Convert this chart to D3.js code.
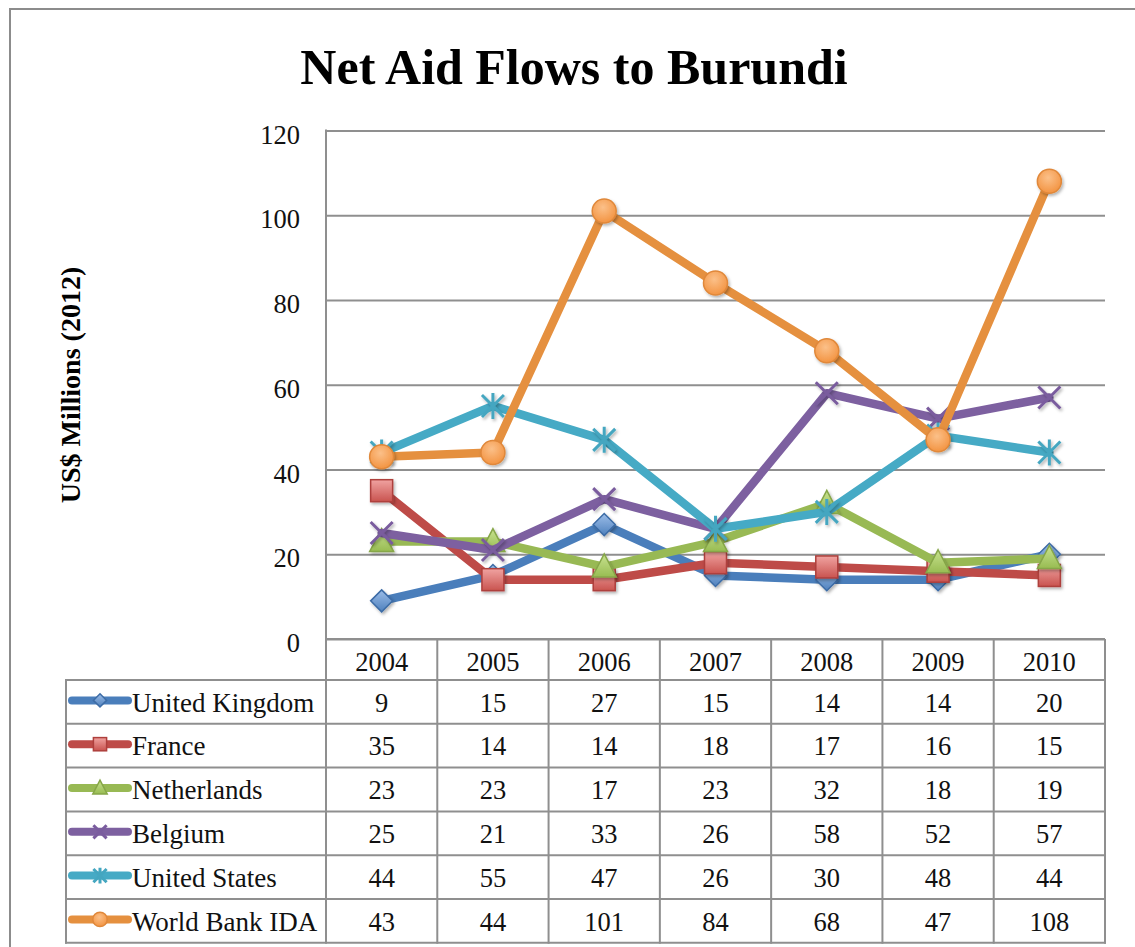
<!DOCTYPE html>
<html>
<head>
<meta charset="utf-8">
<script src="https://cdn.jsdelivr.net/npm/d3@7"></script>
<style>
  html, body { margin: 0; padding: 0; background: #fff; }
  svg { display: block; }
</style>
</head>
<body>
<svg id="chart" width="1135" height="947"></svg>
<script>
// ---- data ----
const years = ["2004", "2005", "2006", "2007", "2008", "2009", "2010"];
const seriesNames = ["United Kingdom", "France", "Netherlands", "Belgium", "United States", "World Bank IDA"];
const ukValues = [9, 15, 27, 15, 14, 14, 20];
const franceValues = [35, 14, 14, 18, 17, 16, 15];
const netherlandsValues = [23, 23, 17, 23, 32, 18, 19];
const belgiumValues = [25, 21, 33, 26, 58, 52, 57];
const usValues = [44, 55, 47, 26, 30, 48, 44];
const worldBankValues = [43, 44, 101, 84, 68, 47, 108];
const yTicks = [0, 20, 40, 60, 80, 100, 120];
const titleText = "Net Aid Flows to Burundi";
const yAxisTitle = "US$ Millions (2012)";

const allValues = [ukValues, franceValues, netherlandsValues, belgiumValues, usValues, worldBankValues];

// ---- styles ----
const styles = [
  { line: "#4A7EBB", marker: "diamond",  g1: "#9CBDE8", g2: "#4F81BD", stroke: "#3D6CA6" },
  { line: "#BE4B48", marker: "square",   g1: "#F0A3A1", g2: "#C9534F", stroke: "#AE3F3C" },
  { line: "#98B954", marker: "triangle", g1: "#C8E290", g2: "#98BC52", stroke: "#86A648" },
  { line: "#7D60A0", marker: "x",        g1: null, g2: null, stroke: "#7A5C9E" },
  { line: "#46AAC5", marker: "star",     g1: null, g2: null, stroke: "#44A6C0" },
  { line: "#E5903F", marker: "circle",   g1: "#FBC089", g2: "#F39442", stroke: "#E0883A" }
];

const font = "'Liberation Serif', 'Times New Roman', serif";
const gridColor = "#8f8f8f";

const svg = d3.select("#chart");
const defs = svg.append("defs");

// gradients
styles.forEach((s, i) => {
  if (!s.g1) return;
  if (s.marker === "circle") {
    const rg = defs.append("radialGradient").attr("id", "grad" + i)
      .attr("cx", "45%").attr("cy", "35%").attr("r", "65%");
    rg.append("stop").attr("offset", "0%").attr("stop-color", s.g1);
    rg.append("stop").attr("offset", "100%").attr("stop-color", s.g2);
  } else {
    const lg = defs.append("linearGradient").attr("id", "grad" + i)
      .attr("x1", "0").attr("y1", "0").attr("x2", "0").attr("y2", "1");
    lg.append("stop").attr("offset", "0%").attr("stop-color", s.g1);
    lg.append("stop").attr("offset", "100%").attr("stop-color", s.g2);
  }
});
const shadow = defs.append("filter").attr("id", "shadow")
  .attr("x", "-50%").attr("y", "-50%").attr("width", "200%").attr("height", "200%");
shadow.append("feDropShadow").attr("dx", 1.5).attr("dy", 2).attr("stdDeviation", 1.5)
  .attr("flood-color", "#000").attr("flood-opacity", 0.3);

// ---- layout ----
const L = 326, R = 1105;
const yTop = 130.5, yZero = 639;
const headerBottom = 680;
const rowH = 43.8;
const legendLeft = 66;
const tableBottom = headerBottom + rowH * seriesNames.length;

const x = d3.scaleBand().domain(years).range([L, R]);
const xc = d => x(d) + x.bandwidth() / 2;
const y = d3.scaleLinear().domain([0, 120]).range([yZero, yTop]);

// outer border (extends beyond viewport)
svg.append("rect").attr("x", 10).attr("y", 9).attr("width", 1300).attr("height", 1100)
  .attr("fill", "none").attr("stroke", "#8c8c8c").attr("stroke-width", 2);

// title
svg.append("text").attr("x", 574).attr("y", 84).attr("text-anchor", "middle")
  .attr("font-family", font).attr("font-weight", "bold").attr("font-size", 50)
  .attr("fill", "#000").text(titleText);

// y axis title
svg.append("text").attr("transform", "translate(80,385) rotate(-90)")
  .attr("text-anchor", "middle").attr("font-family", font).attr("font-weight", "bold")
  .attr("font-size", 28).attr("fill", "#000").text(yAxisTitle);

// y axis with gridlines
const yAxis = d3.axisLeft(y).tickValues(yTicks).tickSize(-(R - L)).tickPadding(26).tickFormat(d3.format("d"));
const gy = svg.append("g").attr("transform", `translate(${L},0)`).call(yAxis);
gy.select(".domain").remove();
gy.selectAll(".tick line").attr("stroke", gridColor).attr("stroke-width", 2);
gy.selectAll(".tick text").attr("font-family", font).attr("font-size", 26.5)
  .attr("fill", "#111").attr("dy", "0.48em");

// table lines
const tg = svg.append("g").attr("stroke", gridColor).attr("stroke-width", 2).attr("fill", "none");
tg.append("line").attr("x1", L).attr("x2", L).attr("y1", yTop - 1).attr("y2", tableBottom + 1);
years.forEach(yr => {
  const xr = x(yr) + x.bandwidth();
  tg.append("line").attr("x1", xr).attr("x2", xr).attr("y1", yZero).attr("y2", tableBottom + 1);
});
tg.append("line").attr("x1", L).attr("x2", R).attr("y1", yZero).attr("y2", yZero);
for (let i = 0; i <= seriesNames.length; i++) {
  const yy = headerBottom + i * rowH;
  tg.append("line").attr("x1", legendLeft - 1).attr("x2", R + 1).attr("y1", yy).attr("y2", yy);
}
tg.append("line").attr("x1", legendLeft).attr("x2", legendLeft).attr("y1", headerBottom).attr("y2", tableBottom + 1);

// header year labels
svg.append("g").selectAll("text").data(years).join("text")
  .attr("x", d => xc(d)).attr("y", 671).attr("text-anchor", "middle")
  .attr("font-family", font).attr("font-size", 26.5).attr("fill", "#111").text(d => d);

// marker drawing
function drawMarker(g, s, i, scale) {
  const k = scale;
  if (s.marker === "diamond") {
    g.append("path").attr("d", `M0,${-11*k}L${11*k},0L0,${11*k}L${-11*k},0Z`)
      .attr("fill", `url(#grad${i})`).attr("stroke", s.stroke).attr("stroke-width", 1.5);
  } else if (s.marker === "square") {
    g.append("rect").attr("x", -11*k).attr("y", -11*k).attr("width", 22*k).attr("height", 22*k)
      .attr("fill", `url(#grad${i})`).attr("stroke", s.stroke).attr("stroke-width", 1.5);
  } else if (s.marker === "triangle") {
    g.append("path").attr("d", `M0,${-13*k}L${12*k},${10*k}L${-12*k},${10*k}Z`)
      .attr("fill", `url(#grad${i})`).attr("stroke", s.stroke).attr("stroke-width", 1.5);
  } else if (s.marker === "x") {
    g.append("path").attr("d", `M${-11*k},${-11*k}L${11*k},${11*k}M${11*k},${-11*k}L${-11*k},${11*k}`)
      .attr("stroke", s.stroke).attr("stroke-width", 3).attr("fill", "none");
  } else if (s.marker === "star") {
    g.append("path").attr("d", `M${-11*k},${-11*k}L${11*k},${11*k}M${11*k},${-11*k}L${-11*k},${11*k}M0,${-13*k}L0,${13*k}`)
      .attr("stroke", s.stroke).attr("stroke-width", 3).attr("fill", "none");
  } else if (s.marker === "circle") {
    g.append("circle").attr("r", 12*k)
      .attr("fill", `url(#grad${i})`).attr("stroke", s.stroke).attr("stroke-width", 1.5);
  }
}

// series lines and markers
const line = d3.line().x(d => xc(d.year)).y(d => y(d.value));
allValues.forEach((vals, i) => {
  const s = styles[i];
  const pts = years.map((yr, j) => ({ year: yr, value: vals[j] }));
  const sg = svg.append("g");
  sg.append("path").datum(pts).attr("d", line).attr("fill", "none")
    .attr("stroke", s.line).attr("stroke-width", 8.5)
    .attr("stroke-linejoin", "round").attr("stroke-linecap", "round");
  sg.selectAll("g.m").data(pts).join("g").attr("class", "m")
    .attr("transform", d => `translate(${xc(d.year)},${y(d.value)})`)
    .attr("filter", "url(#shadow)")
    .each(function () { drawMarker(d3.select(this), s, i, 1); });
});

// table rows: legend + values
allValues.forEach((vals, i) => {
  const s = styles[i];
  const top = headerBottom + i * rowH;
  const cy = top + rowH / 2 - 1.5;
  const rg = svg.append("g");
  rg.append("line").attr("x1", 72).attr("x2", 128).attr("y1", cy).attr("y2", cy)
    .attr("stroke", s.line).attr("stroke-width", 8).attr("stroke-linecap", "round");
  const mg = rg.append("g").attr("transform", `translate(100,${cy})`);
  drawMarker(mg, s, i, 0.6);
  rg.append("text").attr("x", 132).attr("y", top + 31.5)
    .attr("font-family", font).attr("font-size", 27).attr("fill", "#111").text(seriesNames[i]);
  rg.selectAll("text.v").data(vals).join("text").attr("class", "v")
    .attr("x", (d, j) => xc(years[j])).attr("y", top + 31.5).attr("text-anchor", "middle")
    .attr("font-family", font).attr("font-size", 26.5).attr("fill", "#111").text(d => d);
});
</script>
</body>
</html>
